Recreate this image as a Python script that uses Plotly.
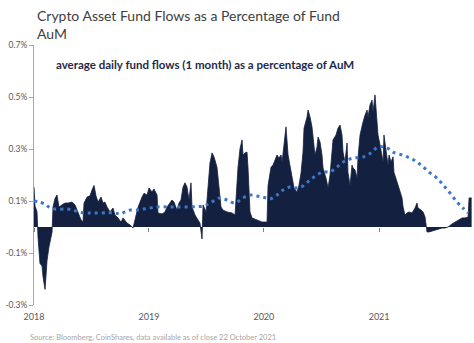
import pandas as pd
import plotly.graph_objects as go

# ---- data (decimal years since 2018-01-01, values in %) ----
flow_t = [0.000, 0.009, 0.026, 0.035, 0.052, 0.070, 0.078, 0.096, 0.104, 0.113, 0.130, 0.157, 0.165,
          0.183, 0.200, 0.217, 0.243, 0.270, 0.296, 0.330, 0.357, 0.383, 0.409, 0.426, 0.435, 0.461,
          0.487, 0.504, 0.522, 0.539, 0.557, 0.583, 0.600, 0.617, 0.635, 0.661, 0.687, 0.704, 0.730,
          0.757, 0.774, 0.809, 0.835, 0.861, 0.887, 0.904, 0.939, 0.957, 0.983, 1.000, 1.026, 1.043,
          1.070, 1.078, 1.113, 1.139, 1.157, 1.183, 1.200, 1.217, 1.243, 1.261, 1.278, 1.296, 1.313,
          1.330, 1.348, 1.365, 1.374, 1.400, 1.426, 1.443, 1.461, 1.470, 1.496, 1.513, 1.530, 1.548,
          1.565, 1.591, 1.609, 1.626, 1.643, 1.678, 1.722, 1.748, 1.774, 1.791, 1.809, 1.817, 1.835,
          1.852, 1.861, 1.878, 1.896, 1.922, 1.948, 1.983, 2.009, 2.026, 2.035, 2.061, 2.078, 2.104,
          2.113, 2.130, 2.148, 2.157, 2.174, 2.191, 2.209, 2.217, 2.243, 2.261, 2.287, 2.304, 2.322,
          2.339, 2.348, 2.374, 2.383, 2.400, 2.417, 2.426, 2.443, 2.461, 2.470, 2.487, 2.504, 2.513,
          2.539, 2.557, 2.574, 2.591, 2.600, 2.626, 2.643, 2.661, 2.678, 2.687, 2.704, 2.722, 2.730,
          2.748, 2.765, 2.774, 2.791, 2.809, 2.817, 2.835, 2.852, 2.861, 2.878, 2.896, 2.904, 2.922,
          2.939, 2.948, 2.965, 2.983, 2.991, 3.009, 3.026, 3.035, 3.043, 3.061, 3.078, 3.087, 3.104,
          3.122, 3.130, 3.157, 3.174, 3.200, 3.209, 3.226, 3.243, 3.261, 3.287, 3.313, 3.330, 3.339,
          3.365, 3.383, 3.400, 3.417, 3.435, 3.461, 3.487, 3.513, 3.548, 3.574, 3.600, 3.635, 3.661,
          3.687, 3.722, 3.748, 3.774, 3.783, 3.805]
flow_v = [0.154, 0.08, 0.06, -0.04, -0.14, -0.15, -0.19, -0.24, -0.19, -0.13, -0.077, -0.02, 0.077,
          0.11, 0.123, 0.077, 0.085, 0.092, 0.092, 0.096, 0.085, 0.058, 0.027, 0.02, 0.092, 0.115,
          0.12, 0.142, 0.16, 0.12, 0.096, 0.115, 0.092, 0.096, 0.077, 0.058, 0.073, 0.046, 0.035,
          0.019, 0.035, 0.015, 0.008, -0.004, 0.038, 0.075, 0.115, 0.13, 0.123, 0.15, 0.135, 0.146,
          0.123, 0.054, 0.05, 0.058, 0.077, 0.092, 0.104, 0.096, 0.065, 0.092, 0.104, 0.154, 0.17,
          0.154, 0.104, 0.17, 0.077, 0.046, 0.027, 0.015, -0.046, 0.085, 0.058, 0.17, 0.246, 0.285,
          0.27, 0.23, 0.154, 0.077, 0.065, 0.058, 0.054, 0.046, 0.23, 0.3, 0.335, 0.277, 0.285,
          0.288, 0.227, 0.058, 0.035, 0.031, 0.027, 0.019, 0.019, 0.019, 0.16, 0.23, 0.238, 0.27,
          0.277, 0.265, 0.277, 0.25, 0.315, 0.385, 0.277, 0.258, 0.2, 0.15, 0.135, 0.16, 0.208,
          0.288, 0.38, 0.423, 0.45, 0.423, 0.385, 0.342, 0.277, 0.308, 0.346, 0.327, 0.277, 0.227,
          0.188, 0.15, 0.2, 0.288, 0.335, 0.354, 0.38, 0.392, 0.354, 0.288, 0.25, 0.323, 0.21,
          0.16, 0.238, 0.227, 0.22, 0.188, 0.265, 0.354, 0.392, 0.404, 0.43, 0.45, 0.423, 0.47,
          0.488, 0.442, 0.508, 0.42, 0.354, 0.315, 0.277, 0.25, 0.354, 0.288, 0.238, 0.277, 0.25,
          0.27, 0.21, 0.173, 0.15, 0.112, 0.077, 0.046, 0.054, 0.058, 0.054, 0.073, 0.092, 0.073,
          0.065, 0.058, 0.038, -0.019, -0.019, -0.015, -0.012, -0.008, -0.004, -0.004, 0.0, 0.012, 0.019,
          0.027, 0.035, 0.035, 0.038, 0.112, 0.112]

trend_t = [0.000, 0.043, 0.096, 0.130, 0.183, 0.287, 0.339, 0.383, 0.443, 0.704, 0.748, 0.791, 0.835,
           0.896, 0.948, 1.009, 1.070, 1.243, 1.470, 1.530, 1.591, 1.617, 1.678, 1.748, 1.817, 1.878,
           1.939, 1.991, 2.052, 2.113, 2.165, 2.226, 2.287, 2.339, 2.400, 2.461, 2.513, 2.574, 2.635,
           2.704, 2.774, 2.861, 2.939, 2.991, 3.070, 3.122, 3.200, 3.270, 3.330, 3.383, 3.443, 3.504,
           3.557, 3.617, 3.678, 3.730, 3.774]
trend_v = [0.10, 0.096, 0.088, 0.077, 0.069, 0.069, 0.065, 0.058, 0.054, 0.054, 0.05, 0.058, 0.065,
           0.065, 0.069, 0.073, 0.077, 0.077, 0.081, 0.092, 0.108, 0.112, 0.104, 0.092, 0.112, 0.123,
           0.119, 0.115, 0.108, 0.123, 0.142, 0.154, 0.15, 0.158, 0.181, 0.2, 0.212, 0.212, 0.231,
           0.254, 0.265, 0.269, 0.288, 0.308, 0.304, 0.288, 0.277, 0.265, 0.25, 0.231, 0.208, 0.188,
           0.162, 0.131, 0.096, 0.073, 0.054]

y_tickvals = [-0.3, -0.1, 0.1, 0.3, 0.5, 0.7]
y_ticktext = ["-0.3%", "-0.1%", "0.1%", "0.3%", "0.5%", "0.7%"]
x_tickvals = ["2018-01-01", "2019-01-01", "2020-01-01", "2021-01-01"]
x_ticktext = ["2018", "2019", "2020", "2021"]

title_text = "Crypto Asset Fund Flows as a Percentage of Fund<br>AuM"
subtitle_text = "average daily fund flows (1 month) as a percentage of AuM"
source_text = "Source: Bloomberg, CoinShares, data available as of close 22 October 2021"

START = pd.Timestamp("2018-01-01")


def to_dates(ts):
    return [START + pd.to_timedelta(t * 365.25, unit="D") for t in ts]


fig = go.Figure()
fig.add_trace(go.Scatter(
    x=to_dates(flow_t), y=flow_v, mode="lines", fill="tozeroy",
    line=dict(color="#14203f", width=0.8), fillcolor="#14203f",
    hoverinfo="skip", showlegend=False))
fig.add_trace(go.Scatter(
    x=to_dates(trend_t), y=trend_v, mode="lines",
    line=dict(color="#3b77c6", width=3, dash="3px,4px", shape="spline"),
    hoverinfo="skip", showlegend=False))
# ticks on the zero line
fig.add_trace(go.Scatter(x=to_dates(trend_t), y=trend_v, xaxis="x2", mode="lines",
                         line=dict(width=0), opacity=0, hoverinfo="skip", showlegend=False))

xr = [START, pd.Timestamp("2021-10-23")]
fig.update_layout(
    width=474, height=343,
    margin=dict(l=34, r=2, t=45, b=38),
    paper_bgcolor="white", plot_bgcolor="white",
    font=dict(family="Lato, Open Sans, sans-serif", color="#595959"),
    xaxis=dict(range=xr, tickvals=x_tickvals, ticktext=x_ticktext, showgrid=False,
               zeroline=False, showline=False, ticks="", ticklabelstandoff=5,
               tickfont=dict(size=9, color="#595959")),
    xaxis2=dict(range=xr, overlaying="x", anchor="free", position=0.3, side="bottom",
                tickvals=x_tickvals, showticklabels=False, ticks="outside", ticklen=4,
                tickcolor="#7f7f7f", showgrid=False, zeroline=False, showline=False),
    yaxis=dict(range=[-0.3, 0.7], tickvals=y_tickvals, ticktext=y_ticktext, showgrid=False,
               zeroline=False, showline=True, linecolor="#a6a6a6", linewidth=1,
               ticks="outside", ticklen=4, tickcolor="#a6a6a6",
               tickfont=dict(size=8.5, color="#595959")),
    annotations=[
        dict(text=title_text, xref="paper", yref="paper",
             x=(35 - 34) / 438, y=(305 - 5) / 260, xanchor="left", yanchor="top",
             align="left", showarrow=False,
             font=dict(size=14, color="#404040", family="Lato")),
        dict(text="<b>" + subtitle_text + "</b>", xref="paper", yref="paper",
             x=(54 - 34) / 438, y=(305 - 65) / 260, xanchor="left", yanchor="middle",
             showarrow=False, font=dict(size=11.5, color="#1f2a4a", family="Lato")),
        dict(text=source_text, xref="paper", yref="paper",
             x=(28 - 34) / 438, y=(305 - 337) / 260, xanchor="left", yanchor="middle",
             showarrow=False, font=dict(size=7.5, color="#a6a6a6", family="Lato")),
    ],
)
fig.write_html("out.html")
